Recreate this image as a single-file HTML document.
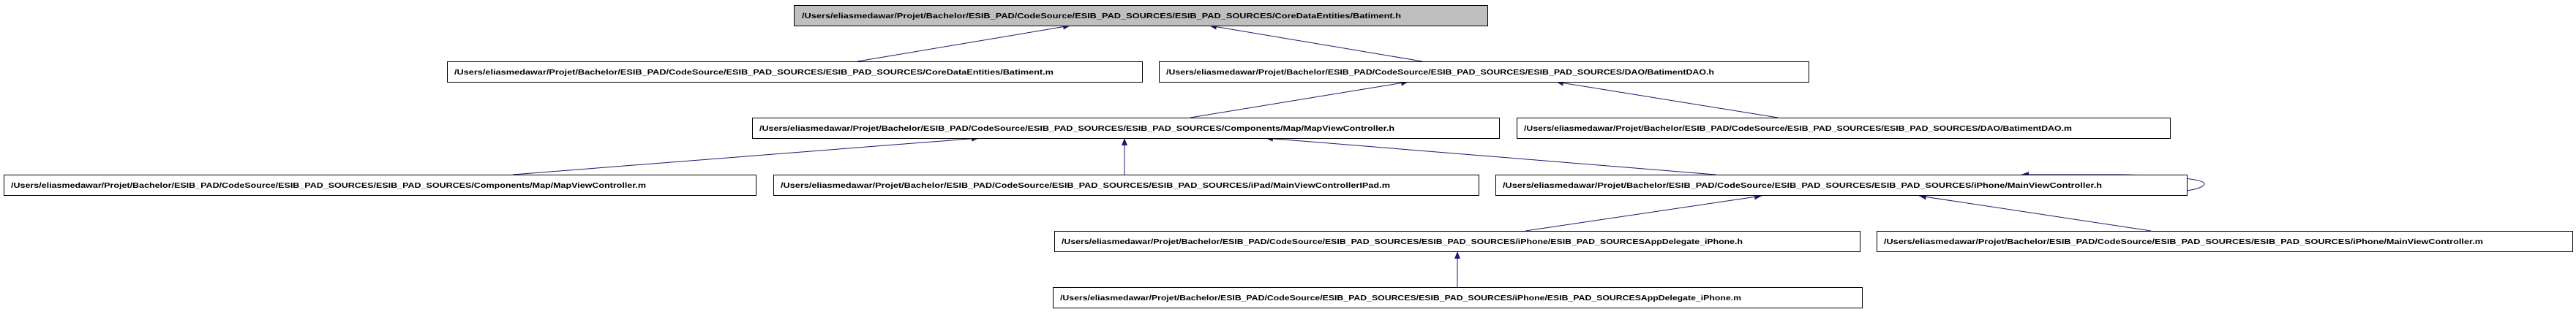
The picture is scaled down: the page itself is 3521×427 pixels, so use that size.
<!DOCTYPE html>
<html><head><meta charset="utf-8"><style>
html,body{margin:0;padding:0;background:#fff;}
svg{display:block;}
text{font-family:"Liberation Sans",sans-serif;font-size:10.5px;font-weight:bold;fill:#000;}
</style></head><body>
<svg xmlns="http://www.w3.org/2000/svg" width="3521" height="427" viewBox="0 0 3521 427">
<defs>
<marker id="a" markerUnits="userSpaceOnUse" markerWidth="11" markerHeight="8" refX="10" refY="4" orient="auto">
<path d="M0,0 L10,4 L0,8 z" fill="#191970"/>
</marker>
</defs>
<g fill="none" stroke="#191970" stroke-width="1" marker-end="url(#a)">
<line x1="1172" y1="84" x2="1463" y2="35"/>
<line x1="1944" y1="84" x2="1653" y2="35"/>
<line x1="1627" y1="161" x2="1925" y2="112"/>
<line x1="2430" y1="161" x2="2127" y2="112"/>
<line x1="701" y1="239" x2="1338" y2="189"/>
<line x1="1537" y1="239" x2="1537" y2="189"/>
<line x1="2345" y1="239" x2="1730" y2="189"/>
<line x1="2085" y1="316" x2="2408" y2="268"/>
<line x1="2940" y1="316" x2="2623" y2="268"/>
<line x1="1992" y1="393" x2="1992" y2="344"/>
<path d="M2989,261 C3003,259 3014,255 3013,251 C3011,245 2960,240 2900,239 L2763,239"/>
</g>
<g stroke="#000" stroke-width="1" fill="#fff">
<rect x="1085.5" y="7.5" width="948" height="28" fill="#bfbfbf"/>
<rect x="611.5" y="84.5" width="950" height="28"/>
<rect x="1584.5" y="84.5" width="888" height="28"/>
<rect x="1028.5" y="161.5" width="1021" height="28"/>
<rect x="2073.5" y="161.5" width="893" height="28"/>
<rect x="5.5" y="239.5" width="1028" height="28"/>
<rect x="1057.5" y="239.5" width="964" height="28"/>
<rect x="2044.5" y="239.5" width="945" height="28"/>
<rect x="1441.5" y="316.5" width="1101" height="28"/>
<rect x="2565.5" y="316.5" width="951" height="28"/>
<rect x="1439.5" y="393.5" width="1106" height="28"/>
</g>
<g id="t">
<text x="1096" y="25">/Users/eliasmedawar/Projet/Bachelor/ESIB_PAD/CodeSource/ESIB_PAD_SOURCES/ESIB_PAD_SOURCES/CoreDataEntities/Batiment.h</text>
<text x="621" y="102">/Users/eliasmedawar/Projet/Bachelor/ESIB_PAD/CodeSource/ESIB_PAD_SOURCES/ESIB_PAD_SOURCES/CoreDataEntities/Batiment.m</text>
<text x="1594" y="102">/Users/eliasmedawar/Projet/Bachelor/ESIB_PAD/CodeSource/ESIB_PAD_SOURCES/ESIB_PAD_SOURCES/DAO/BatimentDAO.h</text>
<text x="1038" y="179">/Users/eliasmedawar/Projet/Bachelor/ESIB_PAD/CodeSource/ESIB_PAD_SOURCES/ESIB_PAD_SOURCES/Components/Map/MapViewController.h</text>
<text x="2083" y="179">/Users/eliasmedawar/Projet/Bachelor/ESIB_PAD/CodeSource/ESIB_PAD_SOURCES/ESIB_PAD_SOURCES/DAO/BatimentDAO.m</text>
<text x="15" y="257">/Users/eliasmedawar/Projet/Bachelor/ESIB_PAD/CodeSource/ESIB_PAD_SOURCES/ESIB_PAD_SOURCES/Components/Map/MapViewController.m</text>
<text x="1067" y="257">/Users/eliasmedawar/Projet/Bachelor/ESIB_PAD/CodeSource/ESIB_PAD_SOURCES/ESIB_PAD_SOURCES/iPad/MainViewControllerIPad.m</text>
<text x="2054" y="257">/Users/eliasmedawar/Projet/Bachelor/ESIB_PAD/CodeSource/ESIB_PAD_SOURCES/ESIB_PAD_SOURCES/iPhone/MainViewController.h</text>
<text x="1451" y="334">/Users/eliasmedawar/Projet/Bachelor/ESIB_PAD/CodeSource/ESIB_PAD_SOURCES/ESIB_PAD_SOURCES/iPhone/ESIB_PAD_SOURCESAppDelegate_iPhone.h</text>
<text x="2575" y="334">/Users/eliasmedawar/Projet/Bachelor/ESIB_PAD/CodeSource/ESIB_PAD_SOURCES/ESIB_PAD_SOURCES/iPhone/MainViewController.m</text>
<text x="1449" y="411">/Users/eliasmedawar/Projet/Bachelor/ESIB_PAD/CodeSource/ESIB_PAD_SOURCES/ESIB_PAD_SOURCES/iPhone/ESIB_PAD_SOURCESAppDelegate_iPhone.m</text>
</g>
<script>
document.querySelectorAll('#t text').forEach(function(t){
  t.setAttribute('textLength', (t.textContent.length*7.0).toFixed(1));
  t.setAttribute('lengthAdjust','spacingAndGlyphs');
});
</script>
</svg>
</body></html>
